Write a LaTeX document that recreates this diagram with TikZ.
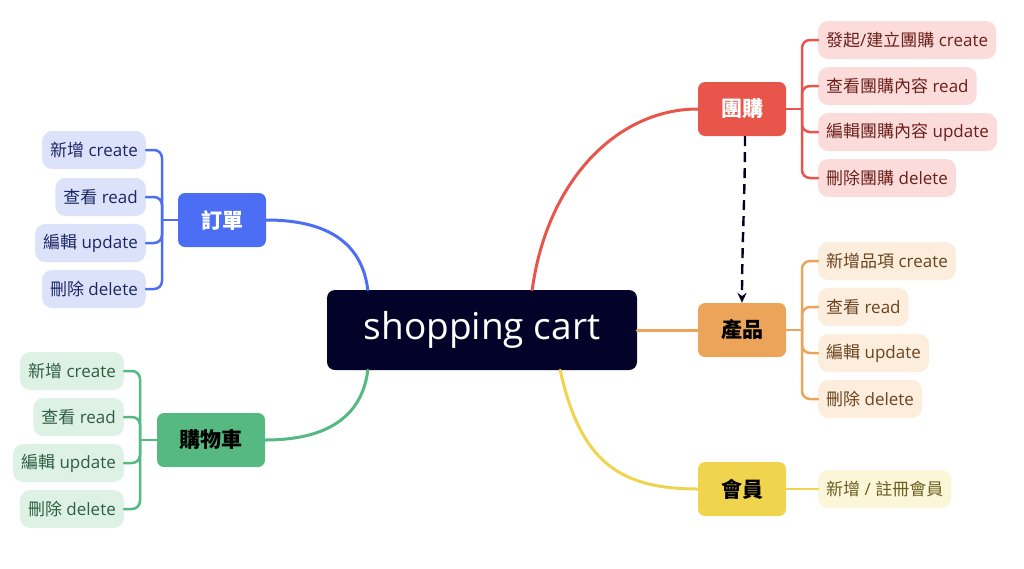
\documentclass[tikz,border=0pt]{standalone}
\usepackage{fontspec}
\setmainfont{Open Sans}
\newfontfamily\cjk{Noto Sans CJK TC}
\newcommand{\zh}[1]{{\cjk #1}}
\usetikzlibrary{arrows.meta}
\definecolor{cnavy}{HTML}{03032A}
\definecolor{cblue}{HTML}{4C6EF5}
\definecolor{cbluel}{HTML}{DDE2FB}
\definecolor{cbluet}{HTML}{1B2763}
\definecolor{cgreen}{HTML}{55B981}
\definecolor{cgreenl}{HTML}{DDF1E4}
\definecolor{cgreent}{HTML}{2F5E44}
\definecolor{cred}{HTML}{E8554A}
\definecolor{credl}{HTML}{FBDCDA}
\definecolor{credt}{HTML}{6B1F1B}
\definecolor{corange}{HTML}{ECA45A}
\definecolor{corangel}{HTML}{FCEDDD}
\definecolor{coranget}{HTML}{6B4421}
\definecolor{cyellow}{HTML}{F0D44E}
\definecolor{cyellowl}{HTML}{FCF6D9}
\definecolor{cyellowt}{HTML}{6B5E21}
\tikzset{
  cen/.style={fill=cnavy, rounded corners=8pt, text=white, font=\fontsize{37}{44}\selectfont, minimum width=310pt, minimum height=80pt, inner sep=0pt},
  topic/.style={rounded corners=7pt, minimum width=88pt, minimum height=54pt, inner sep=0pt, font=\fontsize{21}{25}\selectfont\cjk\bfseries},
  leaf/.style={rounded corners=10pt, minimum height=38pt, inner xsep=8pt, inner ysep=0pt, font=\fontsize{17}{21}\selectfont},
  link/.style={line width=3pt, line cap=round},
  brace/.style={line width=2.5pt, rounded corners=8pt, line cap=round},
}
\begin{document}
\begin{tikzpicture}[x=1pt,y=-1pt]
\useasboundingbox (0,0) rectangle (1024,568);
% center
\node[cen] (c) at (482,330) {shopping cart};
% topics
\node[topic, fill=cblue, text=white] (order) at (222,220) {訂單};
\node[topic, fill=cgreen, text=black, minimum width=108pt] (cart) at (211,440) {購物車};
\node[topic, fill=cred, text=white] (group) at (742,109) {團購};
\node[topic, fill=corange, text=black] (prod) at (742,330) {產品};
\node[topic, fill=cyellow, text=black] (mem) at (742,489) {會員};
% order leaves
\begin{scope}[every node/.style={leaf, fill=cbluel, text=cbluet, anchor=east}]
\node (o1) at (146,150) {\zh{新增} create};
\node (o2) at (146,197) {\zh{查看} read};
\node (o3) at (146,243) {\zh{編輯} update};
\node (o4) at (146,289) {\zh{刪除} delete};
\end{scope}
% cart leaves
\begin{scope}[every node/.style={leaf, fill=cgreenl, text=cgreent, anchor=east}]
\node (k1) at (124,371) {\zh{新增} create};
\node (k2) at (124,417) {\zh{查看} read};
\node (k3) at (124,463) {\zh{編輯} update};
\node (k4) at (124,509) {\zh{刪除} delete};
\end{scope}
% group leaves
\begin{scope}[every node/.style={leaf, fill=credl, text=credt, anchor=west}]
\node (g1) at (818,40) {\zh{發起}/\zh{建立團購} create};
\node (g2) at (818,86) {\zh{查看團購內容} read};
\node (g3) at (818,132) {\zh{編輯團購內容} update};
\node (g4) at (818,178) {\zh{刪除團購} delete};
\end{scope}
% product leaves
\begin{scope}[every node/.style={leaf, fill=corangel, text=coranget, anchor=west}]
\node (p1) at (818,261) {\zh{新增品項} create};
\node (p2) at (818,307) {\zh{查看} read};
\node (p3) at (818,353) {\zh{編輯} update};
\node (p4) at (818,399) {\zh{刪除} delete};
\end{scope}
% member leaf
\node[leaf, fill=cyellowl, text=cyellowt, anchor=west] (m1) at (818,489) {\zh{新增} / \zh{註冊會員}};
% main links
\draw[link, cblue] (order.east) .. controls +(70,0) and +(-5,-40) .. ([xshift=41pt]c.north west);
\draw[link, cgreen] (cart.east) .. controls +(70,0) and +(-5,40) .. ([xshift=41pt]c.south west);
\draw[link, cred] ([xshift=-105pt]c.north east) .. controls +(15,-110) and +(-80,0) .. (group.west);
\draw[link, corange] (c.east) -- (prod.west);
\draw[link, cyellow] ([xshift=-77pt]c.south east) .. controls +(20,90) and +(-80,0) .. (mem.west);
% braces
\draw[brace, cblue] (order.west) -- (162,220);
\foreach \n in {o1,o2,o3,o4} \draw[brace, cblue] (\n.east) -| (162,220);
\draw[brace, cgreen] (cart.west) -- (140,440);
\foreach \n in {k1,k2,k3,k4} \draw[brace, cgreen] (\n.east) -| (140,440);
\draw[brace, cred] (group.east) -- (802,109);
\foreach \n in {g1,g2,g3,g4} \draw[brace, cred] (\n.west) -| (802,109);
\draw[brace, corange] (prod.east) -- (802,330);
\foreach \n in {p1,p2,p3,p4} \draw[brace, corange] (\n.west) -| (802,330);
\draw[brace, cyellow] (mem.east) -- (m1.west);
% dashed dependency
\draw[cnavy, line width=2.4pt, dash pattern=on 10pt off 6pt, -{Stealth[length=10pt,width=9pt]}]
  ([xshift=3pt]group.south) .. controls +(0,60) and +(0,-60) .. (prod.north);
\end{tikzpicture}
\end{document}
